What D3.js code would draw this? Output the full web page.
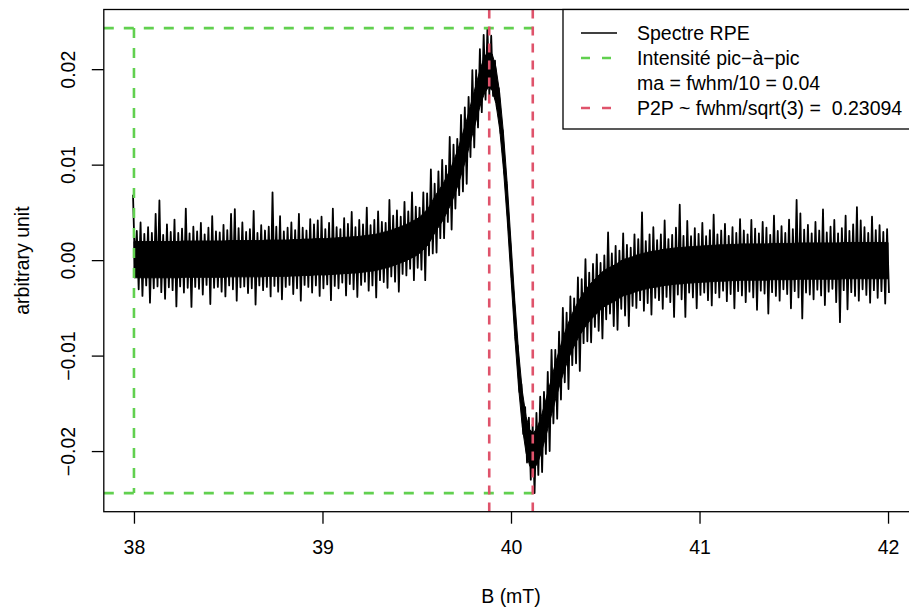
<!DOCTYPE html>
<html><head><meta charset="utf-8">
<script src="https://cdn.jsdelivr.net/npm/d3@7"></script>
<style>
body{margin:0;background:#fff}
svg{display:block;font-family:"Liberation Sans",Arial,Helvetica,sans-serif}
</style>
</head><body>
<script>
// ---------------- data ----------------
// field axis sampling (mT)
const fieldStart = 38.0;
const fieldStep = 0.02;
// mean signal, in units of 1e-3 (arbitrary unit)
const signalMid = [
 0.05,0.05,0.05,0.05,0.05,0.05,0.05,0.05,0.05,0.05,
 0.05,0.05,0.05,0.1,0.1,0.1,0.1,0.1,0.1,0.1,
 0.1,0.1,0.1,0.1,0.1,0.15,0.15,0.15,0.15,0.15,
 0.15,0.15,0.15,0.15,0.15,0.2,0.2,0.2,0.2,0.2,
 0.2,0.2,0.25,0.25,0.25,0.3,0.3,0.3,0.35,0.35,
 0.35,0.35,0.4,0.4,0.45,0.45,0.5,0.5,0.55,0.55,
 0.6,0.65,0.7,0.75,0.8,0.9,1.0,1.1,1.2,1.35,
 1.5,1.65,1.8,2.0,2.2,2.4,2.7,3.1,3.5,4.2,
 4.9,5.5,6.1,6.9,7.7,8.7,9.8,11.1,12.4,13.9,
 15.4,16.9,18.3,19.4,20.0,19.7,18.3,15.6,11.4,6.1,
 0,
 -6.1,-11.4,-15.6,-18.3,-19.7,-20.0,-19.4,-18.3,-16.9,-15.4,
 -13.9,-12.4,-11.1,-9.8,-8.7,-7.7,-6.9,-6.1,-5.5,-4.9,
 -4.4,-4.0,-3.6,-3.2,-2.9,-2.7,-2.5,-2.3,-2.0,-1.8,
 -1.7,-1.6,-1.4,-1.3,-1.2,-1.1,-1.0,-0.95,-0.9,-0.8,
 -0.75,-0.7,-0.65,-0.6,-0.6,-0.55,-0.5,-0.5,-0.45,-0.45,
 -0.4,-0.4,-0.35,-0.35,-0.3,-0.3,-0.3,-0.25,-0.25,-0.25,
 -0.2,-0.2,-0.2,-0.2,-0.2,-0.2,-0.2,-0.2,-0.15,-0.15,
 -0.15,-0.15,-0.15,-0.15,-0.15,-0.1,-0.1,-0.1,-0.1,-0.1,
 -0.1,-0.1,-0.1,-0.1,-0.1,-0.1,-0.1,-0.05,-0.05,-0.05,
 -0.05,-0.05,-0.05,-0.05,-0.05,-0.05,-0.05,-0.05,-0.05,-0.05
];
// upward noise excursion above the mean (1e-3)
const noiseUp = [
 6.8,3.0,3.9,2.7,3.4,2.8,4.8,6.2,2.6,3.7,
 2.9,4.2,2.8,3.2,5.3,2.7,3.4,2.9,3.8,2.6,
 3.3,4.5,2.9,2.8,3.6,3.0,4.7,5.2,3.2,3.8,
 2.8,3.1,5.0,2.7,3.5,2.9,3.3,6.9,3.3,4.4,
 2.8,3.2,3.7,2.9,4.6,3.1,2.8,4.0,3.4,3.8,
 4.2,2.9,3.5,5.0,3.0,2.8,3.9,3.3,4.5,2.9,
 3.6,3.1,4.8,2.9,3.4,4.2,3.0,2.8,5.1,3.3,
 3.7,2.9,4.3,3.1,4.9,3.2,2.8,4.0,3.5,5.3,
 3.1,3.8,4.4,3.0,5.2,3.4,2.9,4.1,3.6,3.2,
 4.5,3.0,3.8,4.2,4.3,3.8,2.6,2.4,2.2,2.1,
 2.2,2.3,2.4,2.6,2.9,3.2,2.8,3.4,4.0,3.1,
 3.7,4.5,3.0,3.6,4.8,3.2,3.9,2.9,4.3,3.5,
 5.0,3.1,3.6,4.2,2.9,3.4,5.6,3.2,3.8,3.0,
 4.6,3.3,2.9,4.1,3.5,6.2,3.1,3.7,4.4,3.0,
 3.5,4.9,2.9,3.3,4.0,6.4,3.1,4.6,3.0,3.8,
 3.2,4.3,2.9,3.5,5.1,3.0,3.4,4.1,2.8,3.7,
 3.1,4.5,3.3,2.9,4.4,3.5,3.0,4.2,3.6,2.8,
 4.8,3.2,3.7,3.0,4.4,3.4,6.4,5.0,3.3,3.8,
 2.9,4.1,3.2,5.4,3.0,3.6,4.3,2.9,3.4,4.7,
 3.1,3.8,5.6,4.2,3.5,2.9,4.6,3.2,3.7,3.0,
 3.3
];
// downward noise excursion below the mean (1e-3)
const noiseDown = [
 0.6,3.1,3.8,2.7,4.5,3.0,2.8,3.4,4.1,2.9,
 3.2,4.9,2.8,3.5,3.0,5.0,2.9,3.1,3.7,2.7,
 4.7,3.0,2.9,3.4,3.9,2.8,3.2,4.4,3.0,2.9,
 3.6,3.1,4.8,2.8,3.3,3.0,4.0,2.9,3.5,4.3,
 3.0,2.8,3.8,3.2,4.5,2.9,3.1,3.7,3.0,4.1,
 3.3,2.9,4.6,3.1,3.4,2.8,4.2,3.0,3.6,4.4,
 3.2,2.9,3.9,3.4,4.7,3.0,3.3,4.0,2.9,3.6,
 4.8,3.1,3.4,2.9,4.3,3.2,3.7,5.2,3.0,3.5,
 4.1,3.2,3.8,2.9,4.5,3.3,3.0,3.9,4.4,3.1,
 3.6,3.0,2.8,2.6,2.7,2.5,2.4,2.3,2.2,2.1,
 2.2,2.3,2.4,2.6,2.9,3.3,4.4,3.1,3.9,3.4,
 4.6,3.2,4.2,3.5,3.0,4.8,3.3,3.9,5.5,3.2,
 3.6,4.2,3.0,3.8,5.0,3.3,2.9,4.4,5.0,3.1,
 4.0,5.2,3.2,3.6,2.9,4.1,3.4,4.7,3.0,3.3,
 4.3,3.1,3.7,5.3,3.0,3.5,5.4,2.9,3.4,4.6,
 3.2,3.0,3.8,4.4,3.1,3.6,2.9,4.0,3.3,4.8,
 3.0,3.5,4.2,3.1,3.7,5.0,3.0,3.3,5.4,3.2,
 3.6,4.1,2.9,3.4,4.9,3.1,3.8,6.0,3.3,3.5,
 4.0,3.0,3.6,4.6,3.2,2.9,4.3,6.4,3.1,5.1,
 3.3,3.7,4.2,3.0,3.6,4.4,3.1,3.9,3.2,4.5,
 3.4
];
// half-width of the dense (solid) part of the noise band (1e-3)
const noiseCore = 1.9;
const xTicks = [38, 39, 40, 41, 42];
const yTicks = [-0.02, -0.01, 0.00, 0.01, 0.02];
const p2pField = [39.88453, 40.11547];     // red dashed verticals (mT)
const peakLevels = [-0.0244, 0.0243];      // green dashed horizontals (min, max)
const peakStartField = 38.0;               // green dashed vertical
const legendLabels = ["Spectre RPE", "Intensité pic\u2212à\u2212pic", "ma = fwhm/10 = 0.04", "P2P ~ fwhm/sqrt(3) =  0.23094"];
const legendKinds = ["solid", "green", "none", "red"];

// ---------------- drawing ----------------
const W = 909, H = 607;
const FONT = 19.5;
const C_GREEN = "#61D04F", C_RED = "#DF536B";
const plot = {left: 103.8, right: 918.2, top: 9.5, bottom: 511.7};

const svg = d3.select("body").append("svg").attr("width", W).attr("height", H);

const x = d3.scaleLinear().domain([37.84, 42.16]).range([plot.left, plot.right]);
const y = d3.scaleLinear().domain([-0.02635, 0.02625]).range([plot.bottom, plot.top]);

svg.append("clipPath").attr("id", "clip").append("rect")
  .attr("x", plot.left).attr("y", plot.top)
  .attr("width", plot.right - plot.left).attr("height", plot.bottom - plot.top);

const g = svg.append("g").attr("clip-path", "url(#clip)");

// spectrum
const n = Math.min(signalMid.length, noiseUp.length, noiseDown.length);
const mids = [], pts = [];
for (let i = 0; i < n; i++) {
  const b = fieldStart + i * fieldStep;
  mids.push([b, signalMid[i]]);
  pts.push([b - fieldStep / 4, (signalMid[i] + noiseUp[i]) * 1e-3]);
  pts.push([b + fieldStep / 4, (signalMid[i] - noiseDown[i]) * 1e-3]);
}
g.append("path").datum(mids)
  .attr("d", d3.area().x(d => x(d[0]))
    .y0(d => y((d[1] - noiseCore) * 1e-3)).y1(d => y((d[1] + noiseCore) * 1e-3)))
  .attr("fill", "#000").attr("stroke", "#000").attr("stroke-width", 1);
g.append("path").datum(pts)
  .attr("d", d3.line().x(d => x(d[0])).y(d => y(d[1])))
  .attr("fill", "none").attr("stroke", "#000").attr("stroke-width", 1.8)
  .attr("stroke-linejoin", "round");

// green dashed: peak-to-peak intensity
const x0 = x.domain()[0];
g.selectAll("line.green-h").data(peakLevels).join("line")
  .attr("x1", x(x0)).attr("x2", x(p2pField[1]))
  .attr("y1", d => y(d)).attr("y2", d => y(d))
  .attr("stroke", C_GREEN).attr("stroke-width", 2.6).attr("stroke-dasharray", "10,10");
g.append("line")
  .attr("x1", x(peakStartField)).attr("x2", x(peakStartField))
  .attr("y1", y(peakLevels[1])).attr("y2", y(peakLevels[0]))
  .attr("stroke", C_GREEN).attr("stroke-width", 2.6).attr("stroke-dasharray", "10,10");

// red dashed: P2P positions
g.selectAll("line.red").data(p2pField).join("line")
  .attr("x1", d => x(d)).attr("x2", d => x(d))
  .attr("y1", plot.top).attr("y2", plot.bottom)
  .attr("stroke", C_RED).attr("stroke-width", 2.6).attr("stroke-dasharray", "9,8");

// axes
const xAxis = svg.append("g").attr("transform", `translate(0,${plot.bottom})`)
  .call(d3.axisBottom(x).tickValues(xTicks).tickSize(12).tickFormat(d3.format("d")));
xAxis.select(".domain").remove();
xAxis.selectAll("line").attr("stroke", "#000").attr("stroke-width", 1.3);
xAxis.selectAll("text").attr("y", 28.5).attr("dy", "0.71em")
  .attr("font-size", FONT).attr("font-family", "Liberation Sans, Arial, sans-serif").attr("fill", "#000");

const yAxis = svg.append("g").attr("transform", `translate(${plot.left},0)`)
  .call(d3.axisLeft(y).tickValues(yTicks).tickSize(12).tickFormat(d3.format(".2f")));
yAxis.select(".domain").remove();
yAxis.selectAll("line").attr("stroke", "#000").attr("stroke-width", 1.3);
yAxis.selectAll("text")
  .attr("transform", "rotate(-90)")
  .attr("x", 0).attr("y", -29).attr("dy", 0)
  .attr("text-anchor", "middle")
  .attr("font-size", FONT).attr("font-family", "Liberation Sans, Arial, sans-serif").attr("fill", "#000");

// box
svg.append("rect")
  .attr("x", plot.left).attr("y", plot.top)
  .attr("width", plot.right - plot.left).attr("height", plot.bottom - plot.top)
  .attr("fill", "none").attr("stroke", "#000").attr("stroke-width", 1.3);

// axis titles
svg.append("text").attr("x", (plot.left + plot.right) / 2).attr("y", 603)
  .attr("text-anchor", "middle").attr("font-size", FONT).text("B (mT)");
svg.append("text").attr("transform", `translate(29,${(plot.top + plot.bottom) / 2}) rotate(-90)`)
  .attr("text-anchor", "middle").attr("font-size", FONT).text("arbitrary unit");

// legend
const leg = svg.append("g");
leg.append("rect").attr("x", 563).attr("y", plot.top).attr("width", 400).attr("height", 119.5)
  .attr("fill", "#fff").attr("stroke", "#000").attr("stroke-width", 1.3);
const rowY = [33, 58, 83, 108];
legendLabels.forEach((lab, i) => {
  const k = legendKinds[i];
  if (k !== "none") {
    leg.append("line").attr("x1", 581).attr("x2", 617).attr("y1", rowY[i]).attr("y2", rowY[i])
      .attr("stroke", k === "solid" ? "#000" : (k === "green" ? C_GREEN : C_RED))
      .attr("stroke-width", k === "solid" ? 1.3 : 2.6)
      .attr("stroke-dasharray", k === "solid" ? null : "9,12");
  }
  leg.append("text").attr("x", 637).attr("y", rowY[i] + 7)
    .attr("font-size", FONT).style("white-space", "pre").text(lab);
});
</script>
</body></html>
